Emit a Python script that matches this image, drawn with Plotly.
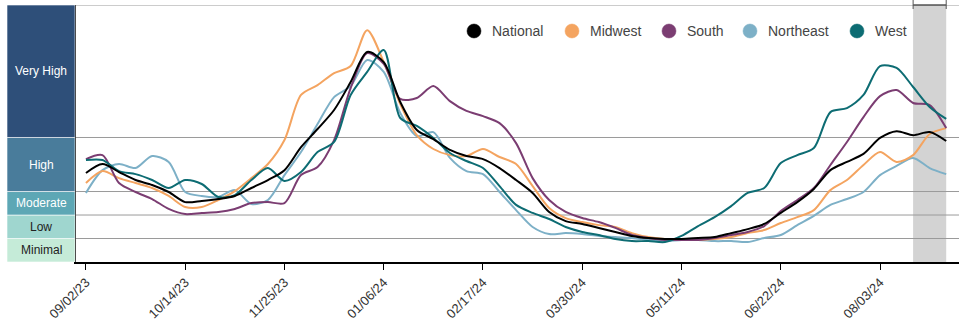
import pandas as pd
import plotly.graph_objects as go

# ---------------- data ----------------
start_date = "2023-09-02"
n_weeks = 53
dates = pd.date_range(start_date, periods=n_weeks, freq="7D")

national = [3.79, 4.17, 3.83, 3.49, 3.28, 2.98, 2.55, 2.60, 2.68, 2.81, 3.15, 3.49, 3.91,
            4.89, 5.66, 6.47, 7.66, 8.94, 8.51, 6.81, 5.62, 5.23, 4.77, 4.51, 4.38, 4.00,
            3.49, 2.94, 2.13, 1.74, 1.62, 1.45, 1.28, 1.11, 1.02, 0.98, 0.98, 1.02, 1.06,
            1.23, 1.40, 1.62, 2.09, 2.55, 3.11, 3.91, 4.26, 4.60, 5.28, 5.57, 5.40, 5.53, 5.15]
midwest = [3.36, 3.87, 3.57, 3.36, 3.15, 2.81, 2.34, 2.34, 2.64, 3.02, 3.57, 4.17, 5.19,
           7.11, 7.53, 8.04, 8.34, 9.87, 8.51, 6.72, 5.40, 4.81, 4.55, 4.51, 4.81, 4.47,
           4.17, 3.23, 2.30, 1.87, 1.70, 1.57, 1.49, 1.23, 1.06, 0.98, 0.94, 0.94, 0.98,
           1.06, 1.23, 1.36, 1.66, 1.91, 2.21, 3.06, 3.49, 4.13, 4.68, 4.26, 4.55, 5.45, 5.70]
south = [4.38, 4.55, 3.36, 2.98, 2.68, 2.26, 2.04, 2.09, 2.13, 2.26, 2.51, 2.55, 2.51,
         3.70, 4.04, 5.19, 7.40, 8.89, 8.43, 6.94, 6.98, 7.49, 6.85, 6.43, 6.21, 5.91,
         5.06, 3.57, 2.64, 2.13, 1.87, 1.70, 1.45, 1.15, 1.02, 0.94, 0.94, 0.94, 1.02,
         1.15, 1.28, 1.53, 2.17, 2.64, 3.15, 4.13, 5.11, 6.17, 7.06, 7.32, 6.77, 6.68, 5.70]
northeast = [2.94, 3.91, 4.17, 4.00, 4.51, 4.26, 2.98, 2.81, 2.77, 3.06, 2.47, 2.64, 3.70,
             4.68, 5.87, 7.02, 7.49, 8.60, 8.09, 6.34, 5.36, 5.53, 4.43, 3.87, 3.74, 2.98,
             2.21, 1.49, 1.19, 1.23, 1.19, 1.11, 1.06, 1.02, 0.94, 0.89, 0.94, 0.94, 0.89,
             0.89, 0.85, 1.02, 1.15, 1.57, 1.96, 2.43, 2.68, 2.98, 3.70, 4.09, 4.43, 4.00, 3.74]
west = [4.34, 4.34, 3.87, 3.74, 3.49, 3.15, 3.49, 3.32, 2.77, 2.85, 3.49, 4.00, 3.45,
        3.83, 4.68, 5.11, 7.11, 8.09, 9.02, 6.13, 5.79, 5.28, 4.64, 4.30, 4.00, 3.23,
        2.43, 2.09, 1.83, 1.49, 1.28, 1.15, 0.98, 0.89, 0.89, 0.85, 1.11, 1.53, 1.91,
        2.38, 2.94, 3.15, 4.21, 4.55, 4.85, 6.38, 6.55, 7.11, 8.34, 8.26, 7.45, 6.60, 6.09]

series_names = ["National", "Midwest", "South", "Northeast", "West"]
series_values = [national, midwest, south, northeast, west]
series_colors = ["#000000", "#F4A460", "#7B3D72", "#7DB0C7", "#0D6C73"]

level_names = ["Minimal", "Low", "Moderate", "High", "Very High"]
level_bounds = [0, 1, 2, 3, 5.3, 10.94]
level_colors = ["#C5EBD8", "#9FD6CF", "#5DA7B5", "#497C9B", "#2E4F79"]
level_text_colors = ["#222222", "#222222", "#FFFFFF", "#FFFFFF", "#FFFFFF"]

provisional_start = "2024-08-17"
provisional_end = "2024-08-31"

x_range = ["2023-08-28 19:00", "2024-09-05 10:00"]
tick_start = "2023-09-02"

# ---------------- layout constants ----------------
W, H = 968, 325
L, R, T, B = 76, 9, 5, 63
PW = W - L - R
PH = H - T - B


def px_x(px):
    return (px - L) / PW


def px_y(py):
    return (H - B - py) / PH


fig = go.Figure()

draw_order = [3, 1, 2, 4, 0]
for k in draw_order:
    fig.add_trace(go.Scatter(
        x=dates, y=series_values[k], name=series_names[k], mode="lines",
        line=dict(color=series_colors[k], width=2, shape="spline", smoothing=0.8),
        showlegend=False, hoverinfo="skip"))

shapes = []
annotations = []

# provisional band
shapes.append(dict(type="rect", xref="x", yref="paper", x0=provisional_start, x1=provisional_end,
                   y0=0, y1=1, fillcolor="#D3D3D3", line=dict(width=0), layer="below"))

# gridlines (thresholds) and top line
for v in level_bounds[1:]:
    shapes.append(dict(type="line", xref="paper", yref="y", x0=0, x1=1, y0=v, y1=v,
                       line=dict(color="#9A9A9A", width=1), layer="below"))

# level bands on left
for i, nm in enumerate(level_names):
    y0, y1 = level_bounds[i], level_bounds[i + 1]
    shapes.append(dict(type="rect", xref="paper", yref="y", x0=px_x(7), x1=px_x(75),
                       y0=y0, y1=y1, fillcolor=level_colors[i],
                       line=dict(color="#FFFFFF", width=0.6), layer="above"))
    annotations.append(dict(xref="paper", yref="y", x=px_x(41), y=(y0 + y1) / 2,
                            text=nm, showarrow=False,
                            font=dict(family="Liberation Sans, Arial", size=12,
                                      color=level_text_colors[i]),
                            xanchor="center", yanchor="middle"))

# bracket above provisional band
shapes.append(dict(type="line", xref="x", yref="paper", x0=provisional_start, x1=provisional_end,
                    y0=1, y1=1, line=dict(color="#555555", width=1.5)))
for d in (provisional_start, provisional_end):
    shapes.append(dict(type="line", xref="x", yref="paper", x0=d, x1=d,
                       y0=px_y(9), y1=px_y(0), line=dict(color="#555555", width=1)))

# manual legend
legend_dot_x = [474, 572, 669, 750, 857]
legend_y = 31
for k, nm in enumerate(series_names):
    cx = legend_dot_x[k]
    shapes.append(dict(type="circle", xref="paper", yref="paper",
                       x0=px_x(cx - 7), x1=px_x(cx + 7), y0=px_y(legend_y + 7), y1=px_y(legend_y - 7),
                       fillcolor=series_colors[k], line=dict(color=series_colors[k], width=0.5)))
    annotations.append(dict(xref="paper", yref="paper", x=px_x(cx + 16), y=px_y(legend_y),
                            text=nm, showarrow=False, xanchor="left", yanchor="middle",
                            font=dict(family="Liberation Sans, Arial", size=14, color="#444444")))

fig.update_layout(
    width=W, height=H,
    margin=dict(l=L, r=R, t=T, b=B, pad=0, autoexpand=False),
    paper_bgcolor="white", plot_bgcolor="white",
    shapes=shapes, annotations=annotations,
    showlegend=False,
    xaxis=dict(range=x_range, type="date", tick0=tick_start, dtick=6 * 7 * 86400000,
               tickformat="%m/%d/%y", tickangle=-45, ticks="outside", ticklen=6,
               tickcolor="#000000", showgrid=False, zeroline=False, automargin=False,
               showline=True, linecolor="#000000", linewidth=1.5,
               tickfont=dict(family="Liberation Sans, Arial", size=13, color="#333333")),
    yaxis=dict(range=[level_bounds[0], level_bounds[-1]], showticklabels=False, ticks="",
               showgrid=False, zeroline=False, showline=True, linecolor="#000000", linewidth=1.5,
               automargin=False),
)

fig.write_html("out.html")
